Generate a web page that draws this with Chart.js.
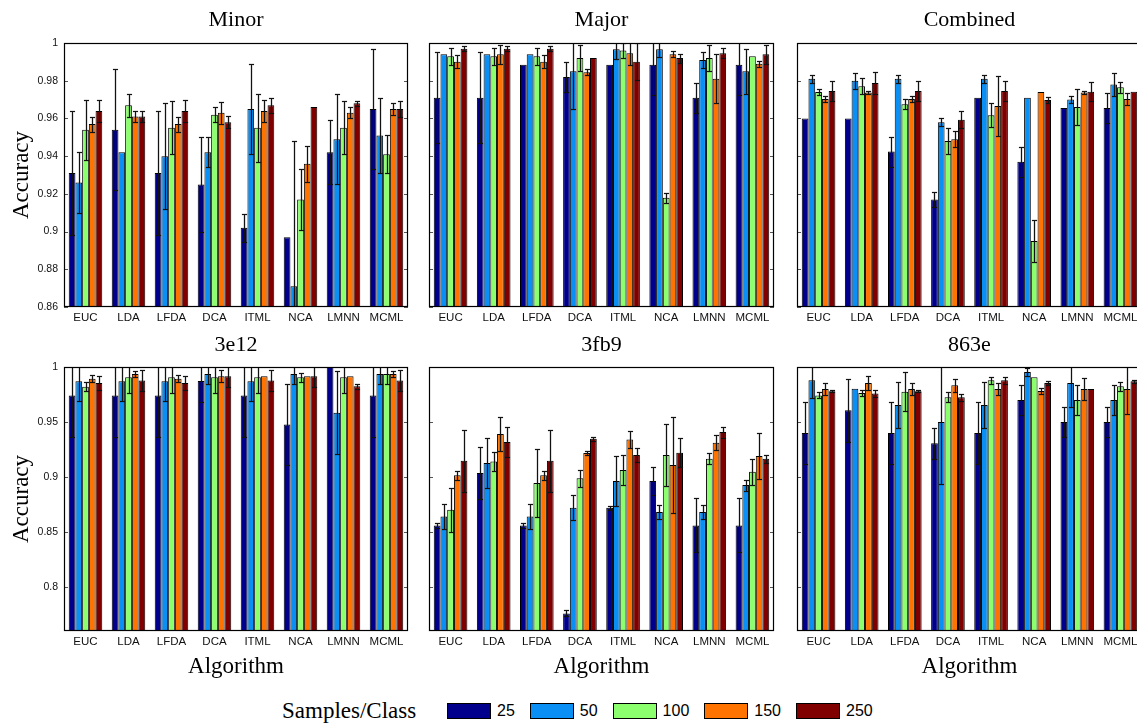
<!DOCTYPE html>
<html>
<head>
<meta charset="utf-8">
<script src="https://cdn.jsdelivr.net/npm/chart.js@4.4.1/dist/chart.umd.min.js"></script>
<style>
  html, body { margin: 0; padding: 0; background: #fff; }
  body { width: 1137px; height: 723px; overflow: hidden; position: relative; }
  canvas { position: absolute; }
  #legend { position: absolute; left: 282px; top: 697px; height: 28px; display: flex; align-items: center;
            font-family: 'Liberation Sans', Arial, sans-serif; font-size: 16px; color: #000; white-space: nowrap; }
  #legend .ttl { font-family: 'Liberation Serif', serif; font-size: 23px; width: 165px; }
  #legend .sw { width: 44px; height: 16px; border: 1px solid #000; box-sizing: border-box; margin-right: 6px; }
  #legend .lb { margin-right: 15px; }
</style>
</head>
<body>
<div id="legend"></div>
<script>
// Algorithms on the x axis, sample sizes per class as series
const ALGORITHMS = ['EUC', 'LDA', 'LFDA', 'DCA', 'ITML', 'NCA', 'LMNN', 'MCML'];
const SAMPLES = ['25', '50', '100', '150', '250'];
const COLORS = ['#00008c', '#0a8ff5', '#8cff6e', '#ff7300', '#800000'];

const TICKS_TOP = [0.86, 0.88, 0.9, 0.92, 0.94, 0.96, 0.98, 1];
const TICKS_BOTTOM = [0.8, 0.85, 0.9, 0.95, 1];

// Mean accuracy, one row per sample size (25, 50, 100, 150, 250)
const MINOR_MEAN = [
  [0.931, 0.954, 0.931, 0.925, 0.902, 0.897, 0.942, 0.965],
  [0.926, 0.942, 0.940, 0.942, 0.965, 0.871, 0.949, 0.951],
  [0.954, 0.967, 0.955, 0.962, 0.955, 0.917, 0.955, 0.941],
  [0.957, 0.961, 0.957, 0.963, 0.964, 0.936, 0.963, 0.965],
  [0.964, 0.961, 0.964, 0.958, 0.967, 0.966, 0.968, 0.965]
];
const MINOR_ERR = [
  [0.033, 0.032, 0.033, 0.025, 0.0075, 0, 0.017, 0.032],
  [0.016, 0, 0.028, 0.008, 0.024, 0.077, 0.024, 0.02],
  [0.016, 0.006, 0.014, 0.004, 0.018, 0.016, 0.014, 0.010],
  [0.004, 0.003, 0.004, 0.0057, 0.006, 0.0095, 0.003, 0.003],
  [0.006, 0.0027, 0.006, 0.0033, 0.004, 0, 0.0012, 0.004]
];

const MAJOR_MEAN = [
  [0.971, 0.971, 0.9885, 0.982, 0.9885, 0.9885, 0.971, 0.9885],
  [0.994, 0.994, 0.994, 0.985, 0.9967, 0.9967, 0.991, 0.985],
  [0.993, 0.993, 0.993, 0.992, 0.996, 0.918, 0.992, 0.993],
  [0.990, 0.994, 0.990, 0.9845, 0.9945, 0.994, 0.981, 0.989],
  [0.997, 0.997, 0.997, 0.992, 0.990, 0.992, 0.9945, 0.994]
];
const MAJOR_ERR = [
  [0.024, 0.024, 0, 0.008, 0, 0.016, 0.008, 0.016],
  [0, 0, 0, 0.02, 0.005, 0.004, 0.004, 0.012],
  [0.0045, 0.0045, 0.0045, 0.007, 0.004, 0.0027, 0.007, 0],
  [0.0035, 0.005, 0.0035, 0.0015, 0.006, 0.0015, 0.013, 0.0015],
  [0.0013, 0.0013, 0.0013, 0, 0.0098, 0.0024, 0.0027, 0.005]
];

const COMBINED_MEAN = [
  [0.960, 0.960, 0.9424, 0.917, 0.971, 0.937, 0.9655, 0.9655],
  [0.981, 0.980, 0.981, 0.958, 0.981, 0.971, 0.970, 0.978],
  [0.974, 0.977, 0.9675, 0.948, 0.9617, 0.895, 0.966, 0.9765],
  [0.9703, 0.9738, 0.9703, 0.949, 0.9666, 0.974, 0.9738, 0.9703],
  [0.9745, 0.9788, 0.9745, 0.9593, 0.9745, 0.9698, 0.9742, 0.9742]
];
const COMBINED_ERR = [
  [0, 0, 0.008, 0.004, 0, 0.008, 0, 0.008],
  [0.002, 0.0043, 0.002, 0.002, 0.002, 0, 0.002, 0.006],
  [0.0018, 0.0042, 0.0027, 0.0067, 0.0065, 0.0113, 0.0095, 0.003],
  [0.0014, 0.001, 0.0014, 0.0042, 0.0157, 0, 0.001, 0.0032],
  [0.0053, 0.0056, 0.0053, 0.0046, 0.0053, 0.0014, 0.005, 0]
];

const S3E12_MEAN = [
  [0.9742, 0.9742, 0.9742, 0.9873, 0.9742, 0.9478, 1.0, 0.9742],
  [0.987, 0.987, 0.987, 0.9936, 0.987, 0.9936, 0.9585, 0.9936],
  [0.982, 0.9906, 0.9906, 0.9906, 0.9906, 0.9906, 0.9906, 0.9936],
  [0.9894, 0.9936, 0.9894, 0.9915, 0.9915, 0.9915, 0.9915, 0.9936],
  [0.9855, 0.9878, 0.9855, 0.9915, 0.9878, 0.9915, 0.9824, 0.9878]
];
const S3E12_ERR = [
  [0.038, 0.038, 0.038, 0.019, 0.038, 0.037, 0, 0.038],
  [0.018, 0.018, 0.018, 0.009, 0.018, 0.009, 0.038, 0.009],
  [0.004, 0.0145, 0.0145, 0.0145, 0.0145, 0.004, 0.0145, 0.009],
  [0.003, 0.003, 0.003, 0.0055, 0, 0, 0, 0.0025],
  [0.006, 0.0095, 0.006, 0.01, 0.0095, 0.01, 0.002, 0.0095]
];

const S3FB9_MEAN = [
  [0.856, 0.9036, 0.856, 0.776, 0.872, 0.8964, 0.856, 0.856],
  [0.8642, 0.9127, 0.8642, 0.8721, 0.8964, 0.8682, 0.8682, 0.8927],
  [0.8703, 0.9142, 0.8945, 0.8988, 0.9064, 0.920, 0.9167, 0.9048],
  [0.9015, 0.9391, 0.9015, 0.9218, 0.9342, 0.9109, 0.9312, 0.9191],
  [0.9148, 0.9318, 0.9148, 0.9348, 0.920, 0.9221, 0.9409, 0.9167]
];
const S3FB9_ERR = [
  [0.002, 0.0235, 0.002, 0.0027, 0.002, 0.0125, 0.0245, 0.0245],
  [0.0115, 0.023, 0.0115, 0.0115, 0.023, 0.006, 0.006, 0.005],
  [0.02, 0.0085, 0.031, 0.008, 0.014, 0.028, 0.005, 0.012],
  [0.0042, 0.0155, 0.004, 0.0015, 0.0076, 0.0435, 0.007, 0.021],
  [0.028, 0.0135, 0.028, 0.002, 0.0067, 0.0133, 0.005, 0.0036]
];

const S863E_MEAN = [
  [0.940, 0.9606, 0.940, 0.9306, 0.940, 0.970, 0.950, 0.950],
  [0.9879, 0.9803, 0.9655, 0.950, 0.9655, 0.9955, 0.9855, 0.970],
  [0.9742, 0.9764, 0.9776, 0.9724, 0.9879, 0.9906, 0.970, 0.9824],
  [0.980, 0.9855, 0.980, 0.9833, 0.980, 0.9782, 0.980, 0.980],
  [0.9779, 0.9758, 0.9779, 0.9724, 0.9879, 0.9855, 0.980, 0.987]
];
const S863E_ERR = [
  [0.028, 0.0285, 0.028, 0.014, 0.028, 0.014, 0.014, 0.014],
  [0.016, 0, 0.021, 0.0565, 0.021, 0.004, 0.0215, 0.014],
  [0.0027, 0.003, 0.0175, 0.0045, 0.0033, 0, 0.014, 0.004],
  [0.0055, 0.0065, 0.0055, 0.006, 0.0055, 0.0024, 0.0097, 0.0227],
  [0.001, 0.003, 0.001, 0.003, 0.0033, 0.0015, 0, 0.0015]
];

// Grid of small multiples
const PANELS = [
  { title: 'Minor',    mean: MINOR_MEAN,    err: MINOR_ERR,    row: 0, col: 0 },
  { title: 'Major',    mean: MAJOR_MEAN,    err: MAJOR_ERR,    row: 0, col: 1 },
  { title: 'Combined', mean: COMBINED_MEAN, err: COMBINED_ERR, row: 0, col: 2 },
  { title: '3e12',     mean: S3E12_MEAN,    err: S3E12_ERR,    row: 1, col: 0 },
  { title: '3fb9',     mean: S3FB9_MEAN,    err: S3FB9_ERR,    row: 1, col: 1 },
  { title: '863e',     mean: S863E_MEAN,    err: S863E_ERR,    row: 1, col: 2 }
];

// Layout of each row / column (plot-area edges in page pixels)
const ROWS = [
  { canvasTop: 0,   plotTop: 43,  plotBottom: 307, canvasBottom: 330, min: 0.86, max: 1, ticks: TICKS_TOP,
    titlePad: { top: 7, bottom: 9.6 } },
  { canvasTop: 320, plotTop: 367, plotBottom: 631, canvasBottom: 690, min: 0.76, max: 1, ticks: TICKS_BOTTOM,
    titlePad: { top: 11.8, bottom: 8.8 } }
];
const COLS = [
  { plotLeft: 64,  plotRight: 408,  yWidth: 64 },
  { plotLeft: 429, plotRight: 774,  yWidth: 6 },
  { plotLeft: 797, plotRight: 1142, yWidth: 6 }
];
const RIGHT_PAD = 3;

const fmtTick = v => String(+Number(v).toFixed(2));

// Error bars drawn from each bar element's position and the y scale
const errorBarPlugin = {
  id: 'errorBars',
  afterDatasetsDraw(chart) {
    const { ctx, chartArea: a } = chart;
    const ys = chart.scales.y;
    ctx.save();
    ctx.beginPath();
    ctx.rect(a.left, a.top, a.right - a.left, a.bottom - a.top);
    ctx.clip();
    chart.data.datasets.forEach((ds, i) => {
      const meta = chart.getDatasetMeta(i);
      meta.data.forEach((el, j) => {
        const e = ds.errors[j];
        if (!e) return;
        const v = ds.data[j];
        const x = Math.round(el.x) + 0.5;
        const yHi = Math.round(ys.getPixelForValue(v + e)) + 0.5;
        const yLo = Math.round(ys.getPixelForValue(v - e)) + 0.5;
        const half = Math.max(2, el.width * 0.38);
        // soft halo
        ctx.strokeStyle = 'rgba(0,0,0,0.22)';
        ctx.lineWidth = 2.2;
        ctx.beginPath();
        ctx.moveTo(x, yHi); ctx.lineTo(x, yLo);
        ctx.moveTo(x - half, yHi); ctx.lineTo(x + half, yHi);
        ctx.moveTo(x - half, yLo); ctx.lineTo(x + half, yLo);
        ctx.stroke();
        ctx.strokeStyle = '#111';
        ctx.lineWidth = 1;
        ctx.beginPath();
        ctx.moveTo(x, yHi); ctx.lineTo(x, yLo);
        ctx.moveTo(x - half, yHi); ctx.lineTo(x + half, yHi);
        ctx.moveTo(x - half, yLo); ctx.lineTo(x + half, yLo);
        ctx.stroke();
      });
    });
    ctx.restore();
  }
};

// Axes box with small inward ticks
const framePlugin = {
  id: 'frame',
  afterDraw(chart, args, opts) {
    const { ctx, chartArea: a } = chart;
    const ys = chart.scales.y;
    ctx.save();
    ctx.strokeStyle = '#555';
    ctx.lineWidth = 1;
    ctx.beginPath();
    (opts.ticks || []).forEach(v => {
      const y = Math.round(ys.getPixelForValue(v)) + 0.5;
      ctx.moveTo(a.left, y); ctx.lineTo(a.left + 4, y);
      ctx.moveTo(a.right - 4, y); ctx.lineTo(a.right, y);
    });
    ctx.stroke();
    ctx.strokeStyle = '#000';
    ctx.lineWidth = 1.2;
    ctx.strokeRect(Math.round(a.left) + 0.5, Math.round(a.top) + 0.5,
                   Math.round(a.right - a.left) - 1, Math.round(a.bottom - a.top) - 1);
    ctx.restore();
  }
};

PANELS.forEach(p => {
  const r = ROWS[p.row], c = COLS[p.col];
  const canvas = document.createElement('canvas');
  const left = c.plotLeft - c.yWidth;
  const width = c.yWidth + (c.plotRight - c.plotLeft) + RIGHT_PAD;
  const height = r.canvasBottom - r.canvasTop;
  canvas.width = width; canvas.height = height;
  canvas.style.left = left + 'px';
  canvas.style.top = r.canvasTop + 'px';
  canvas.style.width = width + 'px';
  canvas.style.height = height + 'px';
  document.body.appendChild(canvas);

  const xHeight = r.canvasBottom - r.plotBottom;
  const showYLabels = p.col === 0;
  const showXTitle = p.row === 1;

  new Chart(canvas, {
    type: 'bar',
    data: {
      labels: ALGORITHMS,
      datasets: SAMPLES.map((s, i) => ({
        label: s,
        data: p.mean[i],
        errors: p.err[i],
        backgroundColor: COLORS[i],
        borderColor: '#000',
        borderWidth: 1,
        categoryPercentage: 0.78,
        barPercentage: 1.0
      }))
    },
    options: {
      responsive: false,
      devicePixelRatio: 1,
      animation: false,
      events: [],
      layout: { padding: { left: 0, right: RIGHT_PAD, top: 0, bottom: 0 } },
      plugins: {
        legend: { display: false },
        tooltip: { enabled: false },
        title: {
          display: true,
          text: p.title,
          fullSize: false,
          color: '#000',
          font: { family: "'Liberation Serif', serif", size: 22, weight: 'normal', lineHeight: 1.2 },
          padding: r.titlePad
        },
        frame: { ticks: r.ticks }
      },
      scales: {
        x: {
          grid: { display: false, drawTicks: false },
          border: { display: false },
          ticks: { color: '#111', padding: 4, font: { family: "'Liberation Sans', Arial, sans-serif", size: 11.5 } },
          title: {
            display: showXTitle,
            text: 'Algorithm',
            color: '#000',
            font: { family: "'Liberation Serif', serif", size: 23, lineHeight: 1.2 },
            padding: { top: 0, bottom: 9.2 }
          },
          afterFit(scale) { scale.height = xHeight; }
        },
        y: {
          min: r.min,
          max: r.max,
          grid: { display: false, drawTicks: false },
          border: { display: false },
          afterBuildTicks(scale) { scale.ticks = r.ticks.map(v => ({ value: v })); },
          ticks: {
            display: showYLabels,
            color: '#111',
            padding: 6,
            font: { family: "'Liberation Sans', Arial, sans-serif", size: 10.5 },
            callback: v => fmtTick(v)
          },
          title: {
            display: showYLabels,
            text: 'Accuracy',
            color: '#000',
            font: { family: "'Liberation Serif', serif", size: 23, lineHeight: 1.2 },
            padding: { top: 8.2, bottom: 0 }
          },
          afterFit(scale) { scale.width = c.yWidth; }
        }
      }
    },
    plugins: [errorBarPlugin, framePlugin]
  });
});

// Shared legend for sample sizes
const legend = document.getElementById('legend');
const ttl = document.createElement('span');
ttl.className = 'ttl';
ttl.textContent = 'Samples/Class';
legend.appendChild(ttl);
SAMPLES.forEach((s, i) => {
  const sw = document.createElement('span');
  sw.className = 'sw';
  sw.style.background = COLORS[i];
  legend.appendChild(sw);
  const lb = document.createElement('span');
  lb.className = 'lb';
  lb.textContent = s;
  legend.appendChild(lb);
});
</script>
</body>
</html>
